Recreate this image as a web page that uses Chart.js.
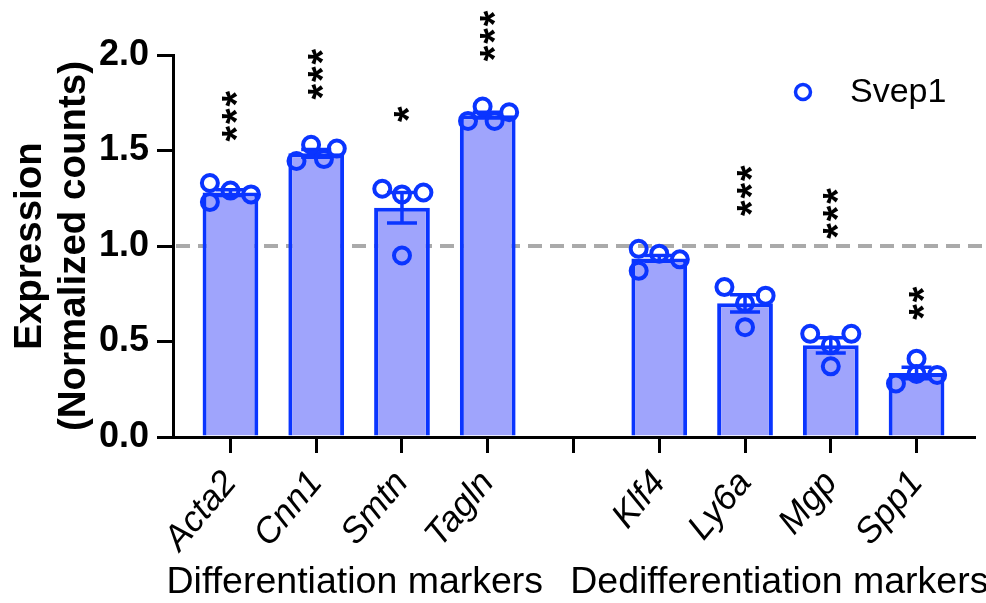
<!DOCTYPE html>
<html>
<head>
<meta charset="utf-8">
<script src="https://cdn.jsdelivr.net/npm/chart.js@4.4.0/dist/chart.umd.min.js"></script>
<style>
  html, body { margin: 0; padding: 0; background: #fff; }
</style>
</head>
<body>
<canvas id="expr-chart" width="986" height="603"></canvas>
<script>
// gene order on the x axis; slot 4 is the empty gap between the two groups
const genes = ['Acta2', 'Cnn1', 'Smtn', 'Tagln', 'Klf4', 'Ly6a', 'Mgp', 'Spp1'];
const slots = [0, 1, 2, 3, 5, 6, 7, 8];
const means = [1.28, 1.485, 1.20, 1.685, 0.935, 0.70, 0.48, 0.335];
const sems = [0.015, 0.02, 0.08, 0.015, 0.015, 0.045, 0.04, 0.03];
const replicates = [
  [1.33, 1.23, 1.29, 1.27],
  [1.445, 1.53, 1.455, 1.51],
  [1.30, 1.27, 1.28, 0.95],
  [1.655, 1.73, 1.655, 1.70],
  [0.985, 0.87, 0.96, 0.93],
  [0.785, 0.70, 0.575, 0.74],
  [0.54, 0.48, 0.37, 0.54],
  [0.28, 0.41, 0.33, 0.325]
];
const stars = ['***', '***', '*', '***', '', '***', '***', '**'];
const groups = ['Differentiation markers', 'Dedifferentiation markers'];
const yTicks = [0, 0.5, 1.0, 1.5, 2.0];
const refLevel = 1.0;

// layout helpers (not data): horizontal spread of replicate dots, star height, group label centre
const jitter = [
  [-0.24, -0.24, 0, 0.24],
  [-0.23, -0.06, 0.09, 0.24],
  [-0.23, 0, 0.25, 0],
  [-0.23, -0.06, 0.08, 0.25],
  [-0.24, -0.24, 0, 0.24],
  [-0.24, 0, 0, 0.24],
  [-0.24, 0, 0, 0.24],
  [-0.24, 0, 0, 0.24]
];
const starLevel = [1.68, 1.90, 1.69, 2.10, null, 1.29, 1.17, 0.70];
const groupCenter = [1.45, 6.4];

const blue = '#0a35ff';
const barFill = '#9fa4fc';
const FONT = "'Liberation Sans', Arial, Helvetica, sans-serif";

const tickNames = {};
slots.forEach((s, i) => { tickNames[s] = genes[i]; });

const barData = slots.map((s, i) => ({ x: s, y: means[i] }));
const dotData = [];
replicates.forEach((vals, i) => {
  vals.forEach((v, j) => dotData.push({ x: slots[i] + jitter[i][j], y: v }));
});

const extras = {
  id: 'extras',
  beforeDatasetsDraw(chart) {
    const { ctx, chartArea, scales: { y } } = chart;
    const yy = y.getPixelForValue(refLevel);
    ctx.save();
    ctx.strokeStyle = '#aaaaaa';
    ctx.lineWidth = 4;
    ctx.setLineDash([14, 8]);
    ctx.beginPath();
    ctx.moveTo(chartArea.left + 3, yy);
    ctx.lineTo(chart.width, yy);
    ctx.stroke();
    ctx.restore();
  },
  afterDatasetDraw(chart, args) {
    if (args.index !== 0) return;
    const { ctx, scales: { x, y } } = chart;
    ctx.save();
    ctx.strokeStyle = blue;
    ctx.lineWidth = 3.5;
    slots.forEach((s, i) => {
      const px = x.getPixelForValue(s);
      const top = y.getPixelForValue(means[i] + sems[i]);
      const bot = y.getPixelForValue(means[i] - sems[i]);
      ctx.beginPath();
      ctx.moveTo(px, top); ctx.lineTo(px, bot);
      ctx.moveTo(px - 15, top); ctx.lineTo(px + 15, top);
      ctx.moveTo(px - 15, bot); ctx.lineTo(px + 15, bot);
      ctx.stroke();
    });
    ctx.restore();
  },
  afterDraw(chart) {
    const { ctx, scales: { x, y } } = chart;
    ctx.save();
    // significance stars, stacked vertically and turned on their side
    ctx.fillStyle = '#000';
    ctx.font = 'bold 40px ' + FONT;
    ctx.textAlign = 'center';
    ctx.textBaseline = 'alphabetic';
    const m = ctx.measureText('*');
    const shift = (m.actualBoundingBoxAscent - m.actualBoundingBoxDescent) / 2;
    slots.forEach((s, i) => {
      const n = stars[i].length;
      if (!n) return;
      const px = x.getPixelForValue(s);
      const cy = y.getPixelForValue(starLevel[i]);
      for (let k = 0; k < n; k++) {
        const sy = cy + (k - (n - 1) / 2) * 17.5;
        ctx.save();
        ctx.translate(px, sy);
        ctx.rotate(-Math.PI / 2);
        ctx.fillText('*', 0, shift);
        ctx.restore();
      }
    });
    // group labels under the gene names
    ctx.font = '37.5px ' + FONT;
    ctx.textBaseline = 'middle';
    groups.forEach((g, i) => {
      ctx.fillText(g, x.getPixelForValue(groupCenter[i]), 583);
    });
    // legend
    ctx.strokeStyle = blue;
    ctx.lineWidth = 3.5;
    ctx.beginPath();
    ctx.arc(803, 92, 7.5, 0, Math.PI * 2);
    ctx.stroke();
    ctx.textAlign = 'left';
    ctx.font = '34px ' + FONT;
    ctx.fillText('Svep1', 850, 93);
    ctx.restore();
  }
};

new Chart(document.getElementById('expr-chart'), {
  type: 'bar',
  data: {
    datasets: [
      {
        type: 'bar',
        label: 'mean',
        data: barData,
        backgroundColor: barFill,
        borderColor: blue,
        borderWidth: 4,
        categoryPercentage: 1,
        barPercentage: 0.65,
        order: 2
      },
      {
        type: 'scatter',
        label: 'Svep1',
        data: dotData,
        pointRadius: 8,
        pointBorderWidth: 4,
        pointBorderColor: blue,
        pointBackgroundColor: 'rgba(0,0,0,0)',
        order: 1
      }
    ]
  },
  options: {
    responsive: false,
    animation: false,
    devicePixelRatio: 1,
    layout: { padding: { top: 55, right: 4, left: 0, bottom: 0 } },
    plugins: {
      legend: { display: false },
      tooltip: { enabled: false }
    },
    scales: {
      x: {
        type: 'linear',
        offset: false,
        min: -0.67,
        max: 8.67,
        afterBuildTicks: (scale) => {
          scale.ticks = [0, 1, 2, 3, 4, 5, 6, 7, 8].map(v => ({ value: v }));
        },
        afterFit: (scale) => {
          scale.height = 166;
          scale.paddingLeft = 0;
          scale.paddingRight = 0;
        },
        grid: { display: true, offset: false, drawOnChartArea: false, drawTicks: true, tickLength: 16, tickWidth: 3, color: '#000', lineWidth: 3 },
        border: { display: true, color: '#000', width: 3 },
        ticks: {
          autoSkip: false,
          minRotation: 50,
          maxRotation: 50,
          padding: 10,
          color: '#000',
          font: { family: FONT, size: 35.5, style: 'italic' },
          callback: (v) => tickNames[v] || ''
        }
      },
      y: {
        min: 0,
        max: 2,
        afterBuildTicks: (scale) => {
          scale.ticks = yTicks.map(v => ({ value: v }));
        },
        afterFit: (scale) => { scale.width = 173; },
        grid: { display: true, drawOnChartArea: false, drawTicks: true, tickLength: 16, tickWidth: 3, color: '#000', lineWidth: 3 },
        border: { display: true, color: '#000', width: 3 },
        ticks: {
          padding: 8,
          color: '#000',
          font: { family: FONT, size: 36, weight: 'bold' },
          callback: (v) => Number(v).toFixed(1)
        },
        title: {
          display: true,
          text: ['Expression', '(Normalized counts)'],
          color: '#000',
          font: { family: FONT, size: 38.5, weight: 'bold', lineHeight: 1.15 },
          padding: { top: 8, bottom: 0 }
        }
      }
    }
  },
  plugins: [extras]
});
</script>
</body>
</html>
